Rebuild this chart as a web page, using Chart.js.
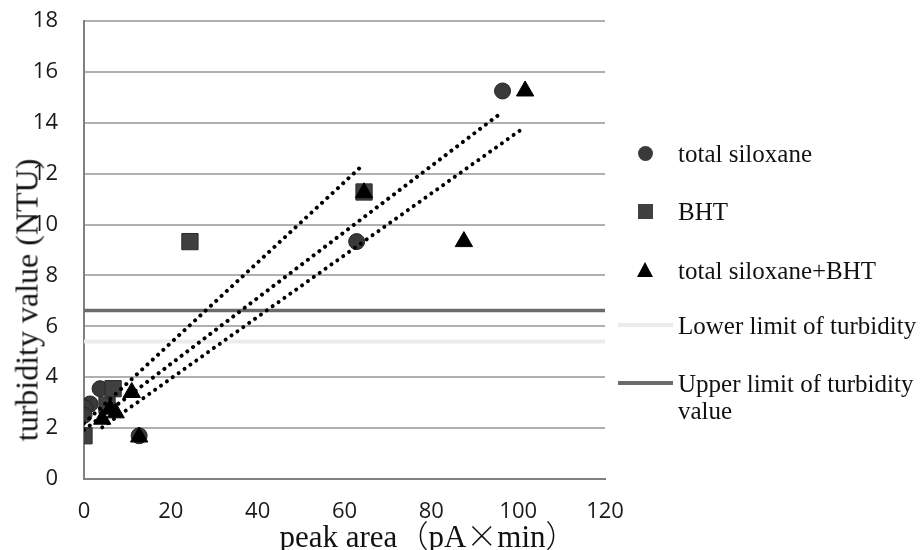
<!DOCTYPE html>
<html>
<head>
<meta charset="utf-8">
<script src="https://cdn.jsdelivr.net/npm/chart.js@4/dist/chart.umd.min.js"></script>
<style>
  body { margin: 0; background: #fff; }
  #wrap { position: relative; width: 923px; height: 550px; overflow: hidden; }
  .serif { font-family: "Liberation Serif", "Noto Sans CJK SC", serif; color: #111; }
  #ytitle { position: absolute; left: 27px; top: 300px; font-size: 32px; white-space: nowrap;
            transform: translate(-50%, -50%) rotate(-90deg); }
  #xtitle { position: absolute; left: 428px; top: 518px; font-size: 31px; white-space: nowrap;
            transform: translateX(-50%); line-height: 32px; }
  #xtitle .cjk { font-family: "Noto Sans CJK SC", sans-serif; font-weight: 300; }
  .leg { position: absolute; left: 678px; font-size: 25px; line-height: 27px; white-space: nowrap; transform: translateY(-50%); }
  .mk { position: absolute; }
</style>
</head>
<body>
<div id="wrap">
  <canvas id="chart" width="923" height="550"></canvas>
  <div id="ytitle" class="serif">turbidity value (NTU)</div>
  <div id="xtitle" class="serif">peak area<span class="cjk">（</span>pA<span class="cjk">×</span>min<span class="cjk">）</span></div>

  <div class="mk" style="left:638px;top:146px;width:15px;height:15px;border-radius:50%;background:#3a3a3a;"></div>
  <div class="leg serif" style="top:153px;">total siloxane</div>

  <div class="mk" style="left:638px;top:204px;width:15px;height:15px;background:#404040;"></div>
  <div class="leg serif" style="top:211px;">BHT</div>

  <div class="mk" style="left:637px;top:262px;width:0;height:0;border-left:8px solid transparent;border-right:8px solid transparent;border-bottom:15px solid #000;"></div>
  <div class="leg serif" style="top:270px;">total siloxane+BHT</div>

  <div class="mk" style="left:618px;top:323px;width:55px;height:4px;background:#ececec;"></div>
  <div class="leg serif" style="top:325px;">Lower limit of turbidity</div>

  <div class="mk" style="left:618px;top:381px;width:55px;height:4px;background:#6b6b6b;"></div>
  <div class="leg serif" style="top:397px;">Upper limit of turbidity<br>value</div>
</div>
<script>
// values
const siloxaneX = [96.4, 62.8, 12.7, 3.7, 1.4, 0.2, 0];
const siloxaneY = [15.25, 9.33, 1.7, 3.55, 2.95, 2.8, 2.5];

const bhtX = [64.5, 24.4, 6.7, 5.3, 0];
const bhtY = [11.28, 9.33, 3.55, 2.9, 1.7];

const bothX = [101.6, 87.5, 64.5, 11, 12.7, 7.3, 6, 4.2];
const bothY = [15.25, 9.33, 11.25, 3.4, 1.65, 2.6, 2.75, 2.35];

// linear trend lines (end points as drawn)
const trendSiloxaneX = [0, 96.4];
const trendSiloxaneY = [1.93, 14.43];
const trendBhtX = [0, 63.4];
const trendBhtY = [2.19, 12.21];
const trendBothX = [4.2, 100.6];
const trendBothY = [2.03, 13.72];

const limitX = [0, 120];
const lowerLimit = 5.4;
const upperLimit = 6.62;

const yTicks = [0, 2, 4, 6, 8, 10, 12, 14, 16, 18];
const xTicks = [0, 20, 40, 60, 80, 100, 120];

const pts = (xs, ys) => xs.map((x, i) => ({ x: x, y: ys[i] }));

const dotted = (xs, ys) => ({
    type: 'line',
    data: pts(xs, ys),
    borderColor: '#000',
    borderWidth: 4,
    borderDash: [0.01, 7.2],
    borderCapStyle: 'round',
    pointRadius: 0,
    fill: false,
    order: 0
});

new Chart(document.getElementById('chart'), {
    type: 'scatter',
    data: {
        datasets: [
            dotted(trendSiloxaneX, trendSiloxaneY),
            dotted(trendBhtX, trendBhtY),
            dotted(trendBothX, trendBothY),
            {
                label: 'total siloxane+BHT',
                data: pts(bothX, bothY),
                pointStyle: 'triangle',
                pointRadius: 10,
                backgroundColor: '#000',
                borderColor: '#000',
                borderWidth: 1,
                order: 1
            },
            {
                label: 'BHT',
                data: pts(bhtX, bhtY),
                pointStyle: 'rect',
                pointRadius: 11.5,
                backgroundColor: '#404040',
                borderColor: '#2a2a2a',
                borderWidth: 1,
                order: 2
            },
            {
                label: 'total siloxane',
                data: pts(siloxaneX, siloxaneY),
                pointStyle: 'circle',
                pointRadius: 8,
                backgroundColor: '#3a3a3a',
                borderColor: '#262626',
                borderWidth: 1,
                order: 3
            },
            {
                type: 'line',
                label: 'Lower limit of turbidity',
                data: limitX.map(x => ({ x: x, y: lowerLimit })),
                borderColor: '#ececec',
                borderWidth: 4,
                pointRadius: 0,
                order: 4
            },
            {
                type: 'line',
                label: 'Upper limit of turbidity value',
                data: limitX.map(x => ({ x: x, y: upperLimit })),
                borderColor: '#6b6b6b',
                borderWidth: 3.5,
                pointRadius: 0,
                order: 4
            }
        ]
    },
    options: {
        responsive: false,
        animation: false,
        layout: { padding: { top: 21, right: 318, left: 0, bottom: 0 } },
        plugins: { legend: { display: false }, tooltip: { enabled: false } },
        scales: {
            x: {
                type: 'linear',
                min: 0,
                max: 120,
                afterBuildTicks: s => { s.ticks = xTicks.map(v => ({ value: v })); },
                afterFit: s => { s.height = 71; s.paddingLeft = 0; s.paddingRight = 0; },
                ticks: { color: '#1a1a1a', padding: 20, font: { family: 'Open Sans', size: 22 } },
                grid: { color: 'rgba(0,0,0,0)', drawTicks: false },
                border: { color: '#808080', width: 2 }
            },
            y: {
                type: 'linear',
                min: 0,
                max: 18,
                afterBuildTicks: s => { s.ticks = yTicks.map(v => ({ value: v })); },
                afterFit: s => { s.width = 84; s.paddingTop = 0; s.paddingBottom = 0; },
                ticks: { color: '#1a1a1a', padding: 26, font: { family: 'Open Sans', size: 22 } },
                grid: {
                    color: c => (c.tick && c.tick.value === 0 ? 'rgba(0,0,0,0)' : '#b0b0b0'),
                    lineWidth: 2,
                    drawTicks: false
                },
                border: { color: '#808080', width: 2 }
            }
        }
    }
});
</script>
</body>
</html>
